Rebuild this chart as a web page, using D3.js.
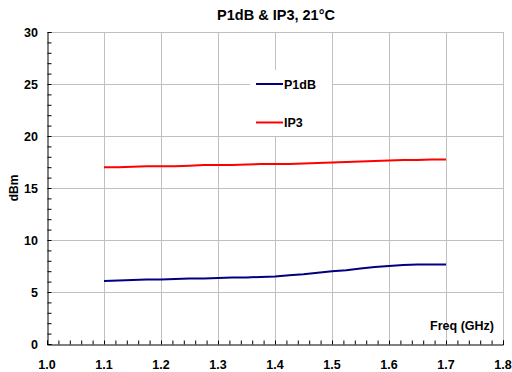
<!DOCTYPE html>
<html>
<head>
<meta charset="utf-8">
<script src="https://cdn.jsdelivr.net/npm/d3@7"></script>
<style>
  body { margin: 0; background: #fff; }
  svg { font-family: 'Liberation Sans', Arial, sans-serif; font-weight: bold; }
</style>
</head>
<body>
<svg id="chart" width="512" height="372"></svg>
<script>
// Frequency points (GHz) and measured values (dBm)
const freq = [1.1, 1.125, 1.15, 1.175, 1.2, 1.225, 1.25, 1.275, 1.3, 1.325, 1.35, 1.375, 1.4,
  1.425, 1.45, 1.475, 1.5, 1.525, 1.55, 1.575, 1.6, 1.625, 1.65, 1.675, 1.7];
const p1db = [6.05, 6.1, 6.15, 6.2, 6.2, 6.25, 6.3, 6.3, 6.35, 6.4, 6.4, 6.45, 6.5,
  6.6, 6.7, 6.85, 7.0, 7.1, 7.25, 7.4, 7.5, 7.6, 7.65, 7.65, 7.65];
const ip3 = [17.0, 17.0, 17.05, 17.1, 17.1, 17.1, 17.15, 17.2, 17.2, 17.2, 17.25, 17.3, 17.3,
  17.3, 17.35, 17.4, 17.45, 17.5, 17.55, 17.6, 17.65, 17.7, 17.7, 17.75, 17.75];
const xTicks = [1.0, 1.1, 1.2, 1.3, 1.4, 1.5, 1.6, 1.7, 1.8];
const yTicks = [0, 5, 10, 15, 20, 25, 30];
const seriesNames = ['P1dB', 'IP3'];
const seriesColors = ['#000080', '#ff0000'];

const svg = d3.select('#chart');
const margin = { top: 32, right: 9, bottom: 28, left: 47 };
const width = 512, height = 372;

const x = d3.scaleLinear().domain([1.0, 1.8]).range([margin.left, width - margin.right]);
const y = d3.scaleLinear().domain([0, 30]).range([height - margin.bottom, margin.top]);

// grid
const grid = svg.append('g').attr('stroke', '#c0c0c0').attr('stroke-width', 1);
grid.selectAll('line.v').data(xTicks.slice(1)).enter().append('line')
  .attr('x1', d => Math.round(x(d)) + 0.5).attr('x2', d => Math.round(x(d)) + 0.5)
  .attr('y1', y(30)).attr('y2', y(0));
grid.selectAll('line.h').data(yTicks.slice(1)).enter().append('line')
  .attr('x1', x(1.0)).attr('x2', x(1.8))
  .attr('y1', d => Math.round(y(d)) + 0.5).attr('y2', d => Math.round(y(d)) + 0.5);

// legend box (white, hides grid behind it)
svg.append('rect').attr('x', 250).attr('y', 70).attr('width', 82).attr('height', 66).attr('fill', '#fff');

// axes
const yAxis = svg.append('g')
  .attr('transform', `translate(${margin.left + 0.5},0)`)
  .call(d3.axisLeft(y).tickValues(d3.range(0, 31, 1)).tickSize(-4).tickFormat(''));
const xAxis = svg.append('g')
  .attr('transform', `translate(0,${Math.round(y(0)) + 0.5})`)
  .call(d3.axisBottom(x).tickValues(d3.range(0, 41).map(i => 1.0 + i * 0.02)).tickSize(-4).tickFormat(''));
[yAxis, xAxis].forEach(a => {
  a.select('.domain').attr('stroke', '#000');
  a.selectAll('.tick line').attr('stroke', '#000');
});

svg.append('g').selectAll('text').data(yTicks).enter().append('text')
  .attr('x', 38).attr('y', d => y(d) + 4.5)
  .attr('text-anchor', 'end').attr('font-size', 12.5).text(d => d);
svg.append('g').selectAll('text').data(xTicks).enter().append('text')
  .attr('x', d => x(d)).attr('y', 369)
  .attr('text-anchor', 'middle').attr('font-size', 12.5).text(d => d.toFixed(1));

// lines
const line = d3.line().x((d, i) => x(freq[i])).y(d => y(d));
[p1db, ip3].forEach((vals, k) => {
  svg.append('path').datum(vals)
    .attr('fill', 'none').attr('stroke', seriesColors[k]).attr('stroke-width', 2)
    .attr('d', line);
});

// legend
const legY = [y(25), y(21.3)];
seriesNames.forEach((n, k) => {
  svg.append('line').attr('x1', 256).attr('x2', 283)
    .attr('y1', legY[k]).attr('y2', legY[k])
    .attr('stroke', seriesColors[k]).attr('stroke-width', 2);
  svg.append('text').attr('x', 284).attr('y', legY[k] + 4.5)
    .attr('font-size', 12.5).text(n);
});

// titles
svg.append('text').attr('x', 276).attr('y', 20).attr('text-anchor', 'middle')
  .attr('font-size', 14.5).text('P1dB & IP3, 21°C');
svg.append('text').attr('transform', `translate(18,${(y(0) + y(30)) / 2}) rotate(-90)`)
  .attr('text-anchor', 'middle').attr('font-size', 12).text('dBm');
svg.append('text').attr('x', 494).attr('y', 330).attr('text-anchor', 'end')
  .attr('font-size', 12.5).text('Freq (GHz)');
</script>
</body>
</html>
